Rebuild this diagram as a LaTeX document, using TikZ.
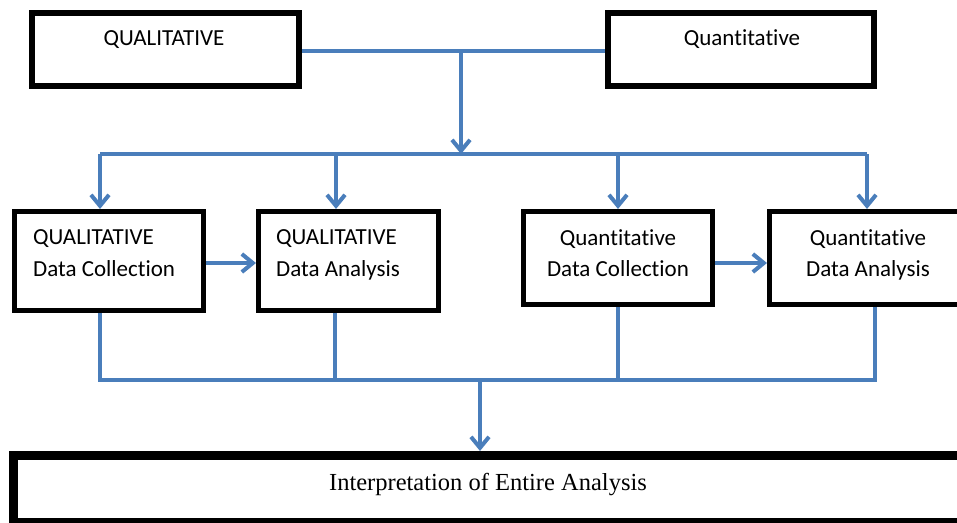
\documentclass[tikz,border=0pt]{standalone}
\usepackage{fontspec}
\setmainfont{Carlito}[Ligatures=NoCommon]
\newfontfamily\serifface{Liberation Serif}
\usetikzlibrary{arrows.meta}
\definecolor{linkblue}{RGB}{74,126,187}
\tikzset{
  boxa/.style={draw=black, line width=5pt, fill=white, inner sep=0pt, rectangle},
  boxtop/.style={draw=black, line width=6pt, fill=white, inner sep=0pt, rectangle},
  boxbig/.style={draw=black, line width=9pt, fill=white, inner sep=0pt, rectangle},
  lbl/.style={inner sep=0pt, font=\fontsize{23}{27}\selectfont},
  serlbl/.style={inner sep=0pt, font=\serifface\fontsize{24.5}{28}\selectfont},
  link/.style={draw=linkblue, line width=4pt},
  linkarrow/.style={link, -{Straight Barb[length=11pt,width=18pt]}},
}
\begin{document}
\begin{tikzpicture}[x=1pt,y=-1pt]
\useasboundingbox (0,0) rectangle (957,522);
\clip (0,0) rectangle (957,522);

% boxes
\node[boxtop, minimum width=267pt, minimum height=73pt] (qlT) at (165.5,49.5) {};
\node[boxtop, minimum width=266pt, minimum height=73pt] (qnT) at (741,49.5) {};
\node[boxa, minimum width=189pt, minimum height=99pt] (A) at (109,261) {};
\node[boxa, minimum width=180pt, minimum height=99pt] (B) at (348.5,261) {};
\node[boxa, minimum width=189pt, minimum height=93pt] (C) at (618,258) {};
\node[boxa, minimum width=197pt, minimum height=93pt] (D) at (868,258) {};
\node[boxbig, minimum width=949pt, minimum height=67pt] (E) at (488,489) {};

% texts
\node[lbl, anchor=base] (tQl) at (164,45) {QUALITATIVE};
\node[lbl, anchor=base] (tQn) at (742,45) {Quantitative};
\node[lbl, anchor=base west] (tA1) at (33,244) {QUALITATIVE};
\node[lbl, anchor=base west] (tA2) at (33,276) {Data Collection};
\node[lbl, anchor=base west] (tB1) at (276,244) {QUALITATIVE};
\node[lbl, anchor=base west] (tB2) at (276,276) {Data Analysis};
\node[lbl, anchor=base] (tC1) at (618,245) {Quantitative};
\node[lbl, anchor=base] (tC2) at (618,276) {Data Collection};
\node[lbl, anchor=base] (tD1) at (868,245) {Quantitative};
\node[lbl, anchor=base] (tD2) at (868,276) {Data Analysis};
\node[serlbl, anchor=base] (tE) at (488,490) {Interpretation of Entire Analysis};

% coordinates for buses
\coordinate (tm) at (461,51);
\coordinate (t0) at (461,154);
\coordinate (t1) at (100,154);
\coordinate (t2) at (336,154);
\coordinate (t3) at (618,154);
\coordinate (t4) at (867,154);
\coordinate (b1) at (100,380);
\coordinate (b2) at (335,380);
\coordinate (b3) at (618,380);
\coordinate (b4) at (875,380);
\coordinate (bm) at (480,380);

% top connectors
\draw[link] (qlT.east |- tm) -- (qnT.west |- tm);
\draw[linkarrow] (tm) -- (t0);
\draw[link] (t1) -- (t4);
\draw[linkarrow] (t1) -- (t1 |- A.north);
\draw[linkarrow] (t2) -- (t2 |- B.north);
\draw[linkarrow] (t3) -- (t3 |- C.north);
\draw[linkarrow] (t4) -- (t4 |- D.north);

% side arrows
\draw[linkarrow] ([yshift=-2pt]A.east) -- ([yshift=-2pt]B.west);
\draw[linkarrow] ([yshift=-5pt]C.east) -- ([yshift=-5pt]D.west);

% bottom connectors
\draw[link] (b1 |- A.south) -- (b1) -- (b4) -- (b4 |- D.south);
\draw[link] (b2 |- B.south) -- (b2);
\draw[link] (b3 |- C.south) -- (b3);
\draw[linkarrow] (bm) -- (bm |- E.north);
\end{tikzpicture}
\end{document}
